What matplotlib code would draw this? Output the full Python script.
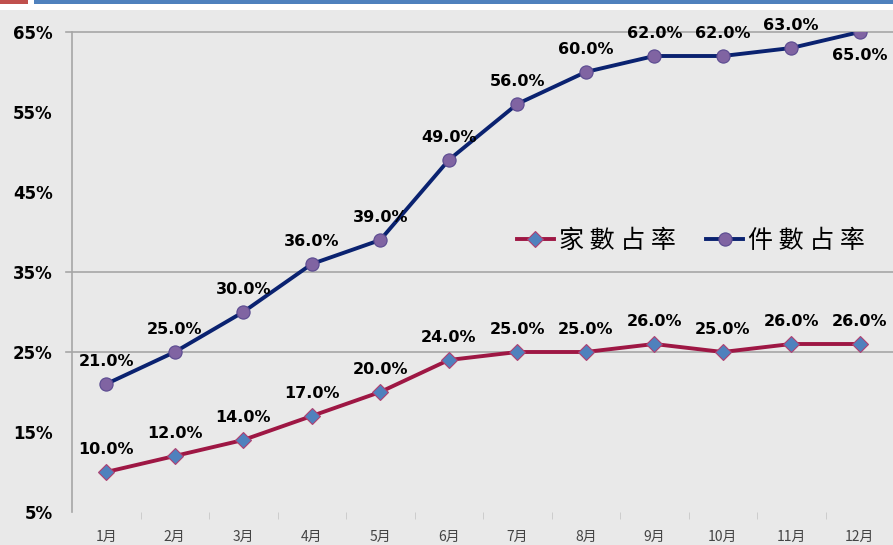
import matplotlib
matplotlib.use('Agg')
from matplotlib import pyplot as plt
from matplotlib.patches import Rectangle

plt.rcParams['font.family'] = ['DejaVu Sans', 'Noto Sans CJK TC']

months = ['1月', '2月', '3月', '4月', '5月', '6月',
          '7月', '8月', '9月', '10月', '11月', '12月']
household_share = [10, 12, 14, 17, 20, 24, 25, 25, 26, 25, 26, 26]
case_share = [21, 25, 30, 36, 39, 49, 56, 60, 62, 62, 63, 65]
y_ticks = [5, 15, 25, 35, 45, 55, 65]
grid_levels = [25, 35, 65]
series_names = ['家 數 占 率', '件 數 占 率']

W, H = 893, 545
fig = plt.figure(figsize=(W / 100, H / 100), dpi=100)
fig.patch.set_facecolor('white')

# textured background panel + header bars
fig.add_artist(Rectangle((0, 0), 1, 1 - 10 / H, transform=fig.transFigure,
                         facecolor='#e9e9e9', edgecolor='none', zorder=-10))
fig.add_artist(Rectangle((0, 1 - 4 / H), 28 / W, 4 / H, transform=fig.transFigure,
                         facecolor='#c0504d', edgecolor='none'))
fig.add_artist(Rectangle((34 / W, 1 - 4 / H), 1, 4 / H, transform=fig.transFigure,
                         facecolor='#4f81bd', edgecolor='none'))

ax = fig.add_axes([72 / W, 33 / H, 822 / W, 480 / H])
ax.set_facecolor('none')
x = list(range(len(months)))

for lvl in grid_levels:
    ax.axhline(lvl, xmin=-6 / 822, color='#a6a6a6', lw=1.2, zorder=1, clip_on=False)

ax.plot(x, household_share, color='#9e1744', lw=2.8, marker='D', ms=8,
        mfc='#4f81bd', mec='#b04070', mew=0.8, label=series_names[0], zorder=3)
ax.plot(x, case_share, color='#0a2270', lw=2.8, marker='o', ms=9.5,
        mfc='#8064a2', mec='#5a4a90', mew=0.8, label=series_names[1], zorder=3)

for i, v in enumerate(household_share):
    ax.annotate(f'{v:.1f}%', (i, v), xytext=(0, 22), textcoords='offset pixels',
                ha='center', va='center', fontsize=11.5, fontweight='bold', zorder=4)
for i, v in enumerate(case_share):
    dy = -23 if i == len(case_share) - 1 else 22
    ax.annotate(f'{v:.1f}%', (i, v), xytext=(0, dy), textcoords='offset pixels',
                ha='center', va='center', fontsize=11.5, fontweight='bold', zorder=4)

ax.set_xlim(-0.5, 11.5)
ax.set_ylim(5, 65)
ax.set_yticks(y_ticks)
ax.set_yticklabels([f'{t}%' for t in y_ticks], fontsize=12, fontweight='bold')
ax.tick_params(axis='y', length=0, pad=14)
ax.set_xticks(x)
ax.set_xticklabels(months, fontsize=10, color='#444444',
                   family=['Noto Sans CJK TC', 'DejaVu Sans'])
ax.tick_params(axis='x', length=0, pad=13)
ax.set_xticks([i + 0.5 for i in x[:-1]], minor=True)
ax.tick_params(axis='x', which='minor', length=5, color='#c8c8c8', direction='out')

for side in ['top', 'right', 'bottom']:
    ax.spines[side].set_visible(False)
ax.spines['left'].set_color('#a6a6a6')
ax.spines['left'].set_linewidth(1.2)

leg = ax.legend(loc='center left', bbox_to_anchor=(494 / W, 1 - 241 / H),
                bbox_transform=fig.transFigure, ncol=2, frameon=False,
                prop={'family': ['Noto Sans CJK TC'], 'size': 18},
                handlelength=1.5, handletextpad=0.2, columnspacing=1.2)

fig.savefig('out.png', dpi=100)
